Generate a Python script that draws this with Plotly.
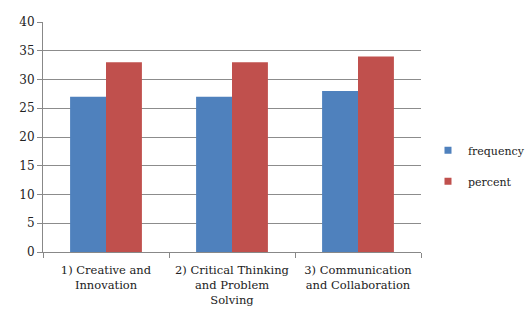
import plotly.graph_objects as go

categories = ["1) Creative and<br>Innovation", "2) Critical Thinking<br>and Problem<br>Solving", "3) Communication<br>and Collaboration"]
frequency = [27, 27, 28]
percent = [33, 33, 34]
series_names = ["frequency", "percent"]
series_colors = ["#4F81BD", "#C0504D"]

fig = go.Figure()
for name, vals, col in zip(series_names, [frequency, percent], series_colors):
    fig.add_trace(go.Bar(x=categories, y=vals, name=name, marker_color=col,
                         legendgroup=name, showlegend=False, marker_line_width=0))
for i, (name, col) in enumerate(zip(series_names, series_colors)):
    fig.add_trace(go.Scatter(x=[None], y=[None], mode="markers", name=name,
                             legendgroup=name,
                             marker=dict(symbol="square", size=7, color=col)))

FAM = "DejaVu Serif"
fig.update_layout(
    width=526, height=311,
    margin=dict(l=43, r=105, t=22, b=59, autoexpand=False),
    paper_bgcolor="white", plot_bgcolor="white",
    barmode="group", bargap=0.43, bargroupgap=0,
    font=dict(family=FAM, size=11, color="#222"),
    legend=dict(x=1.0185, y=0.375, xanchor="left", yanchor="middle",
                font=dict(family=FAM, size=11, color="#222"),
                tracegroupgap=12, itemwidth=30, bgcolor="rgba(0,0,0,0)"),
    showlegend=True,
)
fig.update_xaxes(showline=True, linecolor="#888", linewidth=1, ticks="outside",
                 tickson="boundaries", ticklen=5, tickcolor="#888", showgrid=False,
                 ticklabelstandoff=7, tickangle=0,
                 tickfont=dict(family=FAM, size=11.5, color="#222"))
fig.update_yaxes(range=[0, 40], dtick=5, showline=True, linecolor="#888", linewidth=1,
                 ticks="outside", ticklen=5, tickcolor="#888", showgrid=True,
                 gridcolor="#8c8c8c", gridwidth=1, zeroline=False,
                 tickfont=dict(family=FAM, size=12, color="#222"))
fig.write_html("out.html", config={"displayModeBar": False},
               post_script="document.body.style.margin='0';")
